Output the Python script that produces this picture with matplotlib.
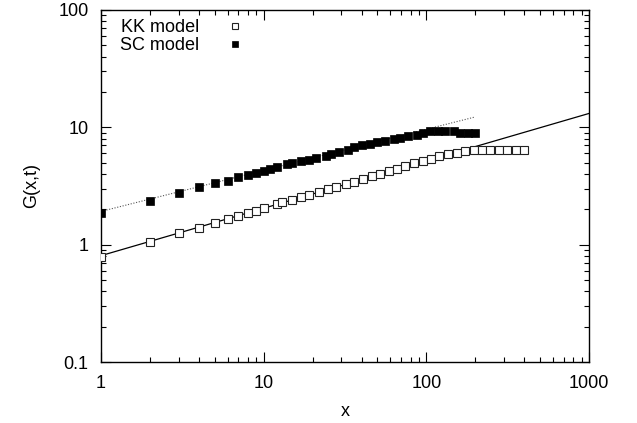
import matplotlib

matplotlib.use("Agg")
import matplotlib.pyplot as plt
from matplotlib.ticker import FuncFormatter, LogLocator, NullFormatter
import numpy as np

plt.rcParams["font.family"] = ["Liberation Sans", "DejaVu Sans"]

# KK model points (open squares)
kk_x = [1, 2, 3, 4, 5, 6, 7, 8, 9, 10, 12, 13, 15, 17, 19, 22, 25, 28, 32, 36,
        41, 46, 52, 59, 66, 74, 84, 95, 107, 120, 136, 154, 173, 195, 219, 247,
        278, 314, 354, 400]
kk_y = [0.78, 1.06, 1.25, 1.40, 1.54, 1.67, 1.77, 1.86, 1.95, 2.05, 2.22, 2.29,
        2.42, 2.53, 2.65, 2.81, 2.96, 3.08, 3.29, 3.44, 3.63, 3.82, 4.01, 4.22,
        4.44, 4.65, 4.94, 5.13, 5.41, 5.66, 5.89, 6.09, 6.24, 6.37, 6.42, 6.42,
        6.42, 6.42, 6.42, 6.42]

# SC model points (filled squares)
sc_x = [1, 2, 3, 4, 5, 6, 7, 8, 9, 10, 11, 12, 14, 15, 17, 19, 21, 24, 26, 29,
        33, 36, 40, 45, 50, 56, 63, 69, 77, 87, 95, 106, 118, 131, 147, 162, 181,
        200]
sc_y = [1.86, 2.37, 2.77, 3.08, 3.33, 3.51, 3.75, 3.95, 4.11, 4.27, 4.42, 4.56,
        4.87, 4.97, 5.13, 5.31, 5.48, 5.74, 5.93, 6.12, 6.42, 6.76, 7.07, 7.21,
        7.45, 7.70, 7.96, 8.10, 8.37, 8.60, 9.00, 9.24, 9.24, 9.24, 9.24, 9.00,
        8.90, 8.90]

# power-law fits drawn through the data
kk_fit_amp, kk_fit_exp, kk_fit_range = 0.806, 0.404, (1, 1000)
sc_fit_amp, sc_fit_exp, sc_fit_range = 1.92, 0.350, (1, 200)

FS = 13

fig = plt.figure(figsize=(6.37, 4.23), dpi=100)
ax = fig.add_axes([0.1586, 0.1442, 0.7661, 0.8322])

xf = np.array(kk_fit_range, dtype=float)
ax.plot(xf, kk_fit_amp * xf ** kk_fit_exp, color="black", lw=0.9, zorder=2)
xs = np.array(sc_fit_range, dtype=float)
ax.plot(xs, sc_fit_amp * xs ** sc_fit_exp, color="#555555", lw=0.8,
        ls=(0, (1, 1.5)), zorder=2)

ax.plot(kk_x, kk_y, ls="none", marker="s", ms=5.5, mfc="white", mec="#222222",
        mew=0.8, label="KK model", zorder=3)
ax.plot(sc_x, sc_y, ls="none", marker="s", ms=5.5, mfc="black", mec="black",
        mew=0.5, label="SC model", zorder=3)

ax.set_xscale("log")
ax.set_yscale("log")
ax.set_xlim(1, 1000)
ax.set_ylim(0.1, 100)

fmt = FuncFormatter(lambda v, p: "%g" % v)
for axis in (ax.xaxis, ax.yaxis):
    axis.set_major_locator(LogLocator(base=10))
    axis.set_minor_locator(LogLocator(base=10, subs=np.arange(2, 10)))
    axis.set_major_formatter(fmt)
    axis.set_minor_formatter(NullFormatter())

ax.tick_params(which="both", direction="in", top=True, right=True,
               labelsize=FS, color="black", width=0.8)
ax.tick_params(which="major", length=7, pad=9)
ax.tick_params(which="minor", length=3.5)
for s in ax.spines.values():
    s.set_linewidth(1.0)

ax.set_xlabel("x", fontsize=FS, labelpad=8)
ax.set_ylabel("G(x,t)", fontsize=FS, labelpad=13)

ax.legend(loc="upper left", bbox_to_anchor=(0.02, 1.0), frameon=False,
          markerfirst=False, fontsize=FS, handlelength=0.8, markerscale=0.8,
          handletextpad=1.6, labelspacing=0.05, borderaxespad=0.1)

fig.savefig("out.png", dpi=100)
